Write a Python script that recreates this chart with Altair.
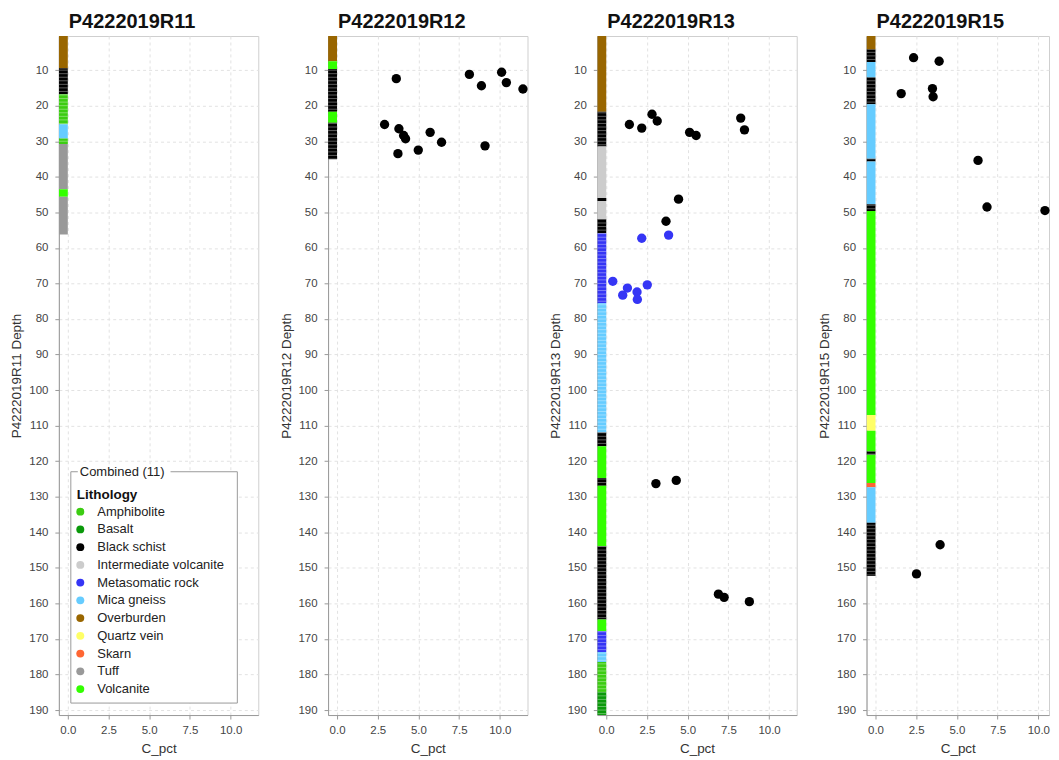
import altair as alt
import numpy as np
import pandas as pd

FONT = "Liberation Sans"

LITHOLOGIES = ["Amphibolite", "Basalt", "Black schist", "Intermediate volcanite",
               "Metasomatic rock", "Mica gneiss", "Overburden", "Quartz vein",
               "Skarn", "Tuff", "Volcanite"]
LITH_COLORS = ["#3ccc12", "#0a990a", "#000000", "#cccccc", "#3535f5", "#66ccff",
               "#996600", "#ffff66", "#ff6633", "#999999", "#33ff00"]

# ---- lithology intervals (depth from, depth to, lithology) ----
R11_FROM = [0.0, 9.5, 16.8, 25.2, 29.2, 30.8, 43.5, 45.6]
R11_TO = [9.5, 16.8, 25.2, 29.2, 30.8, 43.5, 45.6, 56.2]
R11_LITH = ["Overburden", "Black schist", "Amphibolite", "Mica gneiss", "Amphibolite",
            "Tuff", "Volcanite", "Tuff"]

R12_FROM = [0.0, 7.5, 9.7, 21.7, 24.8]
R12_TO = [7.5, 9.7, 21.7, 24.8, 35.1]
R12_LITH = ["Overburden", "Volcanite", "Black schist", "Volcanite", "Black schist"]

R13_FROM = [0.0, 21.7, 31.5, 46.0, 46.8, 51.9, 55.9, 75.6, 111.9, 115.8, 124.7, 126.9,
            143.9, 164.5, 167.8, 173.7, 176.5, 184.9]
R13_TO = [21.7, 31.5, 46.0, 46.8, 51.9, 55.9, 75.6, 111.9, 115.8, 124.7, 126.9, 143.9,
          164.5, 167.8, 173.7, 176.5, 184.9, 192.0]
R13_LITH = ["Overburden", "Black schist", "Intermediate volcanite", "Black schist",
            "Intermediate volcanite", "Black schist", "Metasomatic rock", "Mica gneiss",
            "Black schist", "Volcanite", "Black schist", "Volcanite", "Black schist",
            "Volcanite", "Metasomatic rock", "Mica gneiss", "Amphibolite", "Basalt"]

R15_FROM = [0.0, 4.2, 7.7, 12.1, 19.6, 34.9, 35.7, 47.7, 49.6, 107.0, 111.4, 117.3,
            118.2, 126.1, 127.3, 137.3]
R15_TO = [4.2, 7.7, 12.1, 19.6, 34.9, 35.7, 47.7, 49.6, 107.0, 111.4, 117.3, 118.2,
          126.1, 127.3, 137.3, 152.3]
R15_LITH = ["Overburden", "Black schist", "Mica gneiss", "Black schist", "Mica gneiss",
            "Black schist", "Mica gneiss", "Black schist", "Volcanite", "Quartz vein",
            "Volcanite", "Black schist", "Volcanite", "Skarn", "Mica gneiss",
            "Black schist"]

# lithologies logged in 1 m samples (thin seams visible between samples)
R11_SAMPLED = ["Black schist", "Amphibolite"]
R12_SAMPLED = ["Black schist"]
R13_SAMPLED = ["Black schist", "Metasomatic rock", "Mica gneiss", "Amphibolite", "Basalt"]
R15_SAMPLED = ["Black schist"]

# ---- C_pct samples ----
R11_DEPTH, R11_C, R11_PLITH = [], [], []

R12_DEPTH = [12.4, 11.2, 14.4, 10.6, 13.5, 15.3, 25.3, 26.5, 28.4, 29.3, 27.5, 30.3,
             32.5, 33.5, 31.3]
R12_C = [3.64, 8.13, 8.87, 10.11, 10.40, 11.42, 2.92, 3.80, 4.09, 4.21, 5.72, 6.42,
         4.99, 3.74, 9.09]
R12_PLITH = ["Black schist"] * 15

R13_DEPTH = [25.3, 26.3, 22.4, 24.3, 27.5, 28.4, 23.5, 26.8, 46.3, 52.5,
             57.3, 56.4, 69.4, 71.3, 73.3, 72.4, 74.5, 70.4,
             126.3, 125.4, 157.4, 158.3, 159.5]
R13_C = [1.42, 2.18, 2.81, 3.13, 5.12, 5.52, 8.26, 8.49, 4.44, 3.67,
         2.18, 3.83, 0.40, 1.30, 1.01, 1.89, 1.91, 2.52,
         3.05, 4.30, 6.89, 7.24, 8.79]
R13_PLITH = (["Black schist"] * 10 + ["Metasomatic rock"] * 8 + ["Black schist"] * 5)

R15_DEPTH = [6.5, 7.5, 16.6, 15.2, 17.5, 35.4, 48.5, 49.5, 143.5, 151.7]
R15_C = [2.34, 3.91, 1.58, 3.50, 3.54, 6.30, 6.85, 10.41, 3.97, 2.52]
R15_PLITH = ["Black schist"] * 10

HOLES = [
    ("P4222019R11", R11_FROM, R11_TO, R11_LITH, R11_SAMPLED, R11_DEPTH, R11_C, R11_PLITH),
    ("P4222019R12", R12_FROM, R12_TO, R12_LITH, R12_SAMPLED, R12_DEPTH, R12_C, R12_PLITH),
    ("P4222019R13", R13_FROM, R13_TO, R13_LITH, R13_SAMPLED, R13_DEPTH, R13_C, R13_PLITH),
    ("P4222019R15", R15_FROM, R15_TO, R15_LITH, R15_SAMPLED, R15_DEPTH, R15_C, R15_PLITH),
]

X_TICKS = [0.0, 2.5, 5.0, 7.5, 10.0]
Y_TICKS = list(range(10, 200, 10))
X_MIN, X_MAX = -0.55, 11.7
Y_DOMAIN = [0.4, 191.4]

PW, PH = 200, 681
PX_PER_UNIT = PW / (X_MAX - X_MIN)
LAST_W = 183  # the last panel is cut at the right edge of the page
LAST_XMAX = X_MIN + LAST_W / PX_PER_UNIT

color_scale = alt.Scale(domain=LITHOLOGIES, range=LITH_COLORS)
legend = alt.Legend(orient="none", legendX=18, legendY=453, title="Lithology",
                    symbolType="circle", labelOffset=10.5, symbolOffset=-3, padding=0)
yscale = alt.Scale(domain=Y_DOMAIN, reverse=True, nice=False, zero=False)


def xaxis():
    return alt.Axis(title="C_pct", values=X_TICKS, format=".1f")


def yaxis(name):
    return alt.Axis(title=f"{name} Depth", values=Y_TICKS, format="d")


def hole_chart(name, frm, to, lith, sampled, pdepth, pc, plith, idx):
    last = idx == len(HOLES) - 1
    xmax = LAST_XMAX if last else X_MAX
    width = LAST_W if last else PW
    xscale = alt.Scale(domain=[X_MIN, xmax], nice=False, zero=False)

    iv = pd.DataFrame({"top": frm, "bottom": to, "Lithology": lith})
    iv["x0"] = X_MIN
    iv["x1"] = 0.0
    # seams between the 1 m drill-core samples
    seam_rows = []
    for f, t, l in zip(frm, to, lith):
        if l in sampled:
            for s in np.arange(np.floor(f) + 1, t, 1.0):
                seam_rows.append({"seam": float(s), "x0": X_MIN, "x1": 0.0})
    seams = pd.DataFrame(seam_rows)

    strip = alt.Chart(iv).mark_rect(clip=True).encode(
        x=alt.X("x0:Q", scale=xscale, axis=xaxis()),
        x2="x1:Q",
        y=alt.Y("top:Q", scale=yscale, axis=yaxis(name)),
        y2="bottom:Q",
        color=alt.Color("Lithology:N", scale=color_scale, legend=legend),
    )
    seam = alt.Chart(seams).mark_rule(color="white", strokeWidth=0.8, opacity=0.45,
                                      clip=True).encode(
        x=alt.X("x0:Q", scale=xscale, axis=xaxis()),
        x2="x1:Q",
        y=alt.Y("seam:Q", scale=yscale, axis=yaxis(name)),
    )
    layers = [strip, seam]
    if len(pdepth):
        pts = pd.DataFrame({"Depth": pdepth, "C_pct": pc, "Lithology": plith})
        points = alt.Chart(pts).mark_circle(size=88, opacity=1).encode(
            x=alt.X("C_pct:Q", scale=xscale, axis=xaxis()),
            y=alt.Y("Depth:Q", scale=yscale, axis=yaxis(name)),
            color=alt.Color("Lithology:N", scale=color_scale, legend=legend),
        )
        layers.append(points)
    if idx == 0:
        one = pd.DataFrame({"k": [0]})
        box = alt.Chart(one).mark_rect(fill="white", stroke="#9a9a9a", strokeWidth=1).encode(
            x=alt.value(12), x2=alt.value(179), y=alt.value(437), y2=alt.value(669))
        cover = alt.Chart(one).mark_rect(fill="white").encode(
            x=alt.value(19), x2=alt.value(112), y=alt.value(430), y2=alt.value(444))
        label = alt.Chart(one).mark_text(align="left", baseline="middle", font=FONT,
                                         fontSize=13, color="#222").encode(
            x=alt.value(21), y=alt.value(437), text=alt.value("Combined (11)"))
        layers += [box, cover, label]
    return alt.layer(*layers).properties(
        width=width, height=PH,
        title=alt.TitleParams(name, fontSize=20, font=FONT, fontWeight="bold",
                              color="#111", offset=4, anchor="start", frame="group",
                              dx=10))


panels = [hole_chart(*h, idx=i) for i, h in enumerate(HOLES)]

chart = alt.hconcat(*panels, spacing=19).properties(
    padding={"left": 1, "top": 2, "right": 0, "bottom": 0}
).configure_view(
    stroke="#cfcfcf", strokeWidth=1
).configure_axis(
    labelFont=FONT, labelFontSize=11.5, labelColor="#444",
    titleFont=FONT, titleFontSize=13.5, titleColor="#333", titleFontWeight="normal",
    gridColor="#e2e2e2", gridDash=[3, 3], gridWidth=1,
    domainColor="#9a9a9a", tickColor="#9a9a9a", tickSize=4,
    labelPadding=7, titlePadding=5,
).configure_axisX(
    labelPadding=6, titlePadding=5,
).configure_legend(
    titleFont=FONT, titleFontSize=13.5, titleFontWeight="bold", titleColor="#111",
    labelFont=FONT, labelFontSize=13, labelColor="#222",
    symbolSize=64, symbolStrokeWidth=0, rowPadding=3.8, titlePadding=4,
    padding=0,
).configure_concat(spacing=19)

chart.save("out.html", embed_options={"renderer": "svg", "actions": False})
